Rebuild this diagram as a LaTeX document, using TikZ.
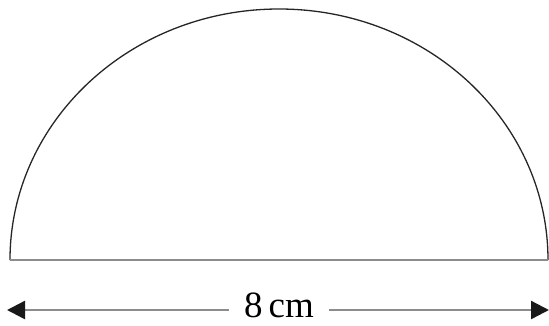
\documentclass[tikz,border=0pt]{standalone}
\usepackage{fontspec}
\setmainfont{Liberation Serif}
\usepackage{tikz}
\usetikzlibrary{arrows.meta,calc}

\begin{document}
\begin{tikzpicture}[
  x=1pt, y=-1pt,
  curve/.style={draw=black!85, line width=1.3pt},
  base/.style={draw=black!45, line width=2.4pt},
  dimarrow/.style={draw=black!45, line width=2.4pt, -{Triangle[length=18pt,width=18pt,color=black!90]}},
  dimlabel/.style={font=\fontsize{37}{40}\selectfont, inner xsep=15pt, inner ysep=0pt},
]
\useasboundingbox (0,0) rectangle (549,325);

\coordinate (L) at (10,260);
\coordinate (R) at (548,260);
\coordinate (tipL) at (7,310);
\coordinate (tipR) at (549,310);

% semicircle on the diameter
\draw[curve] (L) arc[start angle=180, end angle=360, x radius=269, y radius=251];
\draw[base] (L) -- (R);

% length of the diameter
\node[dimlabel] (len) at (279,305) {8\,cm};
\draw[dimarrow] (len.west |- tipL) -- (tipL);
\draw[dimarrow] (len.east |- tipR) -- (tipR);

\end{tikzpicture}
\end{document}
